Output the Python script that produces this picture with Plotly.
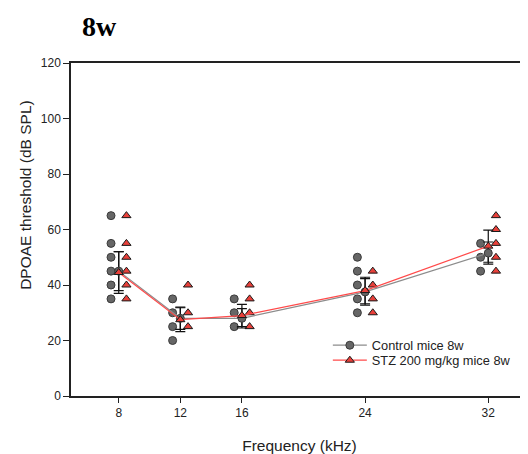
import plotly.graph_objects as go

# ---- data ----
freqs = [8, 12, 16, 24, 32]
x_tick_labels = ["8", "12", "16", "24", "32"]
y_ticks = [0, 20, 40, 60, 80, 100, 120]

control_points = [
    [65, 55, 50, 45, 40, 35],
    [35, 30, 25, 20],
    [35, 30, 25],
    [50, 45, 40, 35, 30],
    [55, 50, 45],
]
stz_points = [
    [65, 55, 50, 45, 40, 35],
    [40, 30, 25],
    [40, 35, 30, 25],
    [45, 40, 35, 30],
    [65, 60, 55, 50, 45],
]
control_mean = [45.0, 28.0, 28.0, 37.5, 51.5]
stz_mean = [44.5, 27.5, 29.0, 38.0, 54.0]
control_err = [7.0, 4.0, 3.5, 4.8, 4.0]
stz_err = [7.5, 4.3, 4.0, 4.8, 5.8]

# ---- styles ----
FONT = "Liberation Sans, Arial, sans-serif"
CTRL_FILL = "#666666"
CTRL_LINE = "#8c8c8c"
STZ_FILL = "#e8403a"
STZ_LINE = "#ff4a4a"
OFFSET = 0.5
W, H = 520, 446  # page body has an 8px margin

fig = go.Figure()

# individual points
cx, cy = [], []
for f, vals in zip(freqs, control_points):
    cx += [f - OFFSET] * len(vals)
    cy += vals
sx, sy = [], []
for f, vals in zip(freqs, stz_points):
    sx += [f + OFFSET] * len(vals)
    sy += vals

ctrl_marker = dict(symbol="circle", size=8, color=CTRL_FILL,
                   line=dict(color="#3a3a3a", width=1))
stz_marker = dict(symbol="triangle-up", size=8, color=STZ_FILL,
                  line=dict(color="#1a1a1a", width=1))

fig.add_trace(go.Scatter(x=cx, y=cy, mode="markers", showlegend=False,
                         hoverinfo="skip", marker=ctrl_marker))
fig.add_trace(go.Scatter(x=sx, y=sy, mode="markers", showlegend=False,
                         hoverinfo="skip", marker=stz_marker))

# error bars
for mean, err in ((control_mean, control_err), (stz_mean, stz_err)):
    fig.add_trace(go.Scatter(
        x=freqs, y=mean, mode="markers", showlegend=False, hoverinfo="skip",
        marker=dict(size=1, opacity=0),
        error_y=dict(type="data", array=err, visible=True,
                     color="#111111", thickness=1.2, width=5)))

# mean lines
fig.add_trace(go.Scatter(
    x=freqs, y=control_mean, mode="lines+markers", name="Control mice 8w",
    legend="legend", line=dict(color=CTRL_LINE, width=1.2),
    marker=ctrl_marker))
fig.add_trace(go.Scatter(
    x=freqs, y=stz_mean, mode="lines+markers", name="STZ 200 mg/kg mice 8w",
    legend="legend2", line=dict(color=STZ_LINE, width=1.2),
    marker=stz_marker))

legend_style = dict(xanchor="left", yanchor="top", bgcolor="rgba(0,0,0,0)",
                    font=dict(size=12.8, color="#222222"), itemwidth=34)

fig.update_layout(
    width=W, height=H,
    margin=dict(l=63, r=0, t=55, b=58),
    paper_bgcolor="white", plot_bgcolor="white",
    font=dict(family=FONT, size=12, color="#222222"),
    title=dict(text="<b>8w</b>", x=74 / W, xanchor="left", xref="container",
               y=1 - 18 / H, yanchor="middle", yref="container",
               font=dict(family="Liberation Serif, Times New Roman, serif",
                         size=28, color="#000000")),
    legend=dict(x=0.562, y=0.197, **legend_style),
    legend2=dict(x=0.562, y=0.152, **legend_style),
    xaxis=dict(range=[4.9, 34.58], tickmode="array", tickvals=freqs,
               ticktext=x_tick_labels, ticks="outside", ticklen=5,
               tickcolor="#222222", showgrid=False, zeroline=False,
               showline=True, linecolor="#222222", linewidth=1.5, mirror=True,
               tickfont=dict(size=12),
               title=dict(text="Frequency (kHz)", standoff=21,
                          font=dict(size=15.5, color="#222222"))),
    yaxis=dict(range=[0, 120], tickmode="array", tickvals=y_ticks,
               ticks="outside", ticklen=6, tickcolor="#222222",
               showgrid=False, zeroline=False, showline=True,
               linecolor="#222222", linewidth=1.5, tickfont=dict(size=12)),
    annotations=[dict(text="DPOAE threshold (dB SPL)", textangle=-90,
                      xref="paper", yref="paper", x=-0.0985, y=0.604,
                      xanchor="center", yanchor="middle", showarrow=False,
                      font=dict(size=15.5, color="#222222"))],
)

fig.write_html("out.html")
